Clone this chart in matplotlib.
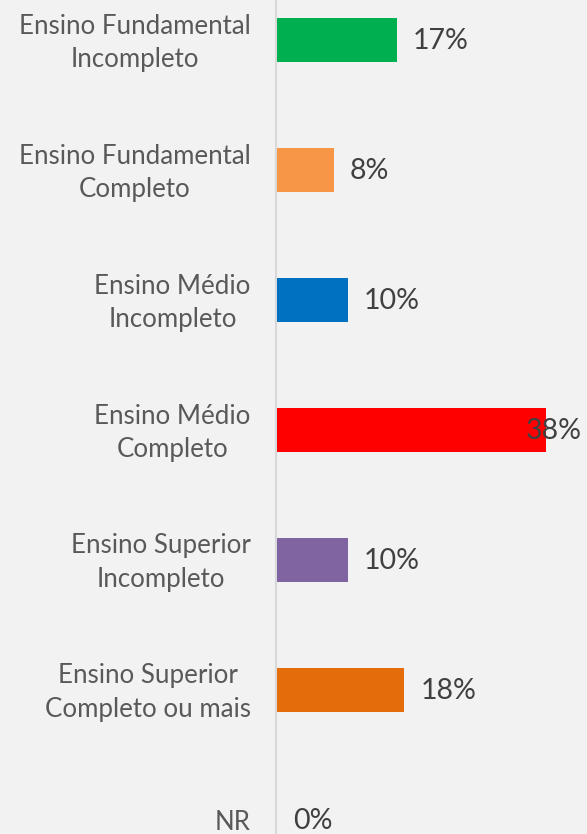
import matplotlib
matplotlib.use("Agg")
import matplotlib.pyplot as plt
from matplotlib.transforms import ScaledTranslation

categories = ["Ensino Fundamental\nIncompleto", "Ensino Fundamental\nCompleto",
              "Ensino Médio\nIncompleto", "Ensino Médio\nCompleto",
              "Ensino Superior\nIncompleto", "Ensino Superior\nCompleto ou mais", "NR"]
values = [17, 8, 10, 38, 10, 18, 0]
labels = ["17%", "8%", "10%", "38%", "10%", "18%", "0%"]
colors = ["#00b050", "#f79646", "#0070c0", "#ff0000", "#8064a2", "#e46c0a", "#4f81bd"]

plt.rcParams['font.family'] = ['Lato', 'DejaVu Sans']
bg = "#f2f2f2"
fig = plt.figure(figsize=(5.87, 8.34), dpi=100, facecolor=bg)
ax = fig.add_axes([277/587, 0, 310/587, 1])
ax.set_facecolor(bg)

y = list(range(len(categories)))
ax.barh(y, values, height=0.338, color=colors, zorder=2)
ax.set_xlim(0, 43.85)
ax.set_ylim((834-40)/130, -40/130)

for s in ["top", "right", "bottom", "left"]:
    ax.spines[s].set_visible(False)
ax.axvline(-0.12, color="#d9d9d9", linewidth=1.6, zorder=1, clip_on=False)
ax.set_xticks([])
ax.set_yticks(y)
ax.set_yticklabels(categories, fontsize=18.6, color="#595959", linespacing=1.4,
                   multialignment="center")
ax.tick_params(axis="y", length=0, pad=19)
shift = ScaledTranslation(0, 4/100, fig.dpi_scale_trans)
for t in ax.get_yticklabels():
    if "\n" in t.get_text():
        t.set_transform(t.get_transform() + shift)

xmax = ax.get_xlim()[1]
for i, (v, lab) in enumerate(zip(values, labels)):
    if v > 0.9 * xmax - 5:
        ax.annotate(lab, xy=(1.0, i), xycoords=("axes fraction", "data"),
                    xytext=(-3.5, -0.7), textcoords="offset points",
                    ha="right", va="center", fontsize=20.5, color="#404040", zorder=3)
    else:
        ax.annotate(lab, xy=(v, i), xytext=(11.5, -0.7), textcoords="offset points",
                    ha="left", va="center", fontsize=20.5, color="#404040", zorder=3)

fig.savefig("out.png", dpi=100, facecolor=bg)
